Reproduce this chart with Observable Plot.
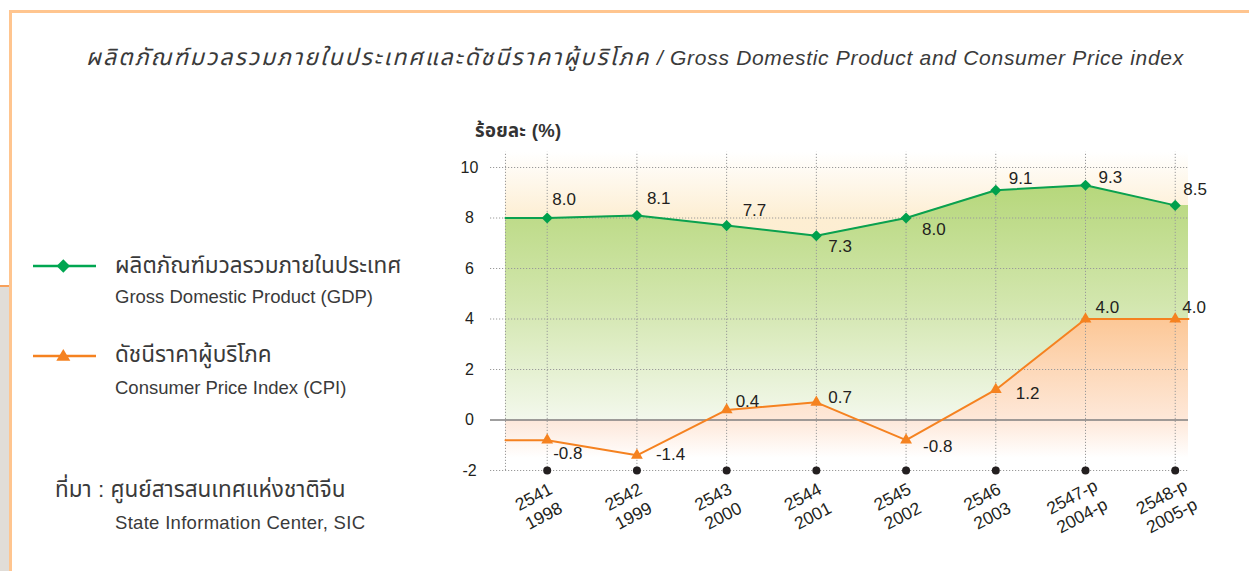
<!DOCTYPE html>
<html><head><meta charset="utf-8">
<script src="https://cdn.jsdelivr.net/npm/d3@7"></script>
<script src="https://cdn.jsdelivr.net/npm/@observablehq/plot@0.6"></script>
<style>
html,body{margin:0;padding:0;background:#fff;}
body{width:1249px;height:571px;position:relative;overflow:hidden;font-family:"Liberation Sans",Arial,"Noto Sans Thai","Noto Sans",sans-serif;color:#333;}
.abs{position:absolute;white-space:nowrap;}
.leg{font-size:18.5px;line-height:22px;color:#3a3a3a;}
.th{font-size:22.5px;line-height:26px;}
</style></head><body>
<div class="abs" style="left:9px;top:10px;width:1240px;height:3px;background:#ffc58f"></div>
<div class="abs" style="left:9px;top:10px;width:3px;height:561px;background:#ffc58f"></div>
<div class="abs" style="left:0;top:285px;width:9px;height:286px;background:#e1ddd8;border-top:2px solid #f7a05a;"></div>
<div class="abs" style="left:86px;top:43px;font-style:italic;line-height:28px;color:#3a3a3a;"><span id="titleTh" style="font-size:23px;letter-spacing:2px"></span><span id="titleEn" style="font-size:21px;letter-spacing:0.7px"></span></div>
<div id="ylabel" class="abs" style="left:475px;top:120px;font-weight:bold;font-size:18.5px;line-height:22px;color:#333;letter-spacing:0.3px"></div>
<svg class="abs" style="left:30px;top:256px" width="70" height="20"><line x1="3" x2="66" y1="10" y2="10" stroke="#00a651" stroke-width="2.5"/><path d="M33.3,3.3 L40,10 L33.3,16.7 L26.6,10Z" fill="#00a651"/></svg>
<svg class="abs" style="left:30px;top:346px" width="70" height="20"><line x1="3" x2="66" y1="10" y2="10" stroke="#f58220" stroke-width="2.5"/><path d="M33.3,3 L40.3,14.7 L26.3,14.7Z" fill="#f58220"/></svg>
<div id="leg0a" class="abs leg th" style="left:115px;top:253px"></div>
<div id="leg0b" class="abs leg" style="left:115px;top:286px"></div>
<div id="leg1a" class="abs leg th" style="left:115px;top:342px"></div>
<div id="leg1b" class="abs leg" style="left:115px;top:377px"></div>
<div id="src0" class="abs leg th" style="left:55px;top:477px"></div>
<div id="src1" class="abs leg" style="left:115px;top:512px;letter-spacing:0.3px"></div>
<div id="chart" class="abs" style="left:430px;top:100px;"></div>
<script>
// ---- data ----
const thaiYears = ["2541","2542","2543","2544","2545","2546","2547-p","2548-p"];
const ceYears = ["1998","1999","2000","2001","2002","2003","2004-p","2005-p"];
const gdp = [8.0, 8.1, 7.7, 7.3, 8.0, 9.1, 9.3, 8.5];
const cpi = [-0.8, -1.4, 0.4, 0.7, -0.8, 1.2, 4.0, 4.0];
const yTicks = [-2, 0, 2, 4, 6, 8, 10];
const seriesThai = ["ผลิตภัณฑ์มวลรวมภายในประเทศ", "ดัชนีราคาผู้บริโภค"];
const seriesEng = ["Gross Domestic Product (GDP)", "Consumer Price Index (CPI)"];
const titleThai = "ผลิตภัณฑ์มวลรวมภายในประเทศและดัชนีราคาผู้บริโภค";
const titleEng = " / Gross Domestic Product and Consumer Price index";
const yAxisLabel = "ร้อยละ (%)";
const sourceThai = "ที่มา : ศูนย์สารสนเทศแห่งชาติจีน";
const sourceEng = "State Information Center, SIC";

// ---- layout (styling, not data) ----
const X_GRID_L = -0.632, X_FILL_L = -0.465, X_R = 7.148, Y_TOP = 10.6;
const gdpLabelOffsets = [[5,-18],[10,-17],[16,-15],[12,11],[16,12],[13,-12],[13,-8],[8,-16]];
const cpiLabelOffsets = [[6,13],[19,-1],[9,-8],[12,-5],[17,6],[20,4],[10,-11],[7,-11]];

document.getElementById("titleTh").textContent = titleThai;
document.getElementById("titleEn").textContent = titleEng;
document.getElementById("ylabel").textContent = yAxisLabel;
document.getElementById("leg0a").textContent = seriesThai[0];
document.getElementById("leg0b").textContent = seriesEng[0];
document.getElementById("leg1a").textContent = seriesThai[1];
document.getElementById("leg1b").textContent = seriesEng[1];
document.getElementById("src0").textContent = sourceThai;
document.getElementById("src1").textContent = sourceEng;

const idx = thaiYears.map((_, i) => i);
const gdpRows = gdp.map((v, i) => ({i, v}));
const cpiRows = cpi.map((v, i) => ({i, v}));
const gdpLine = [{i: X_FILL_L, v: gdp[0]}, ...gdpRows];
const gdpArea = [...gdpLine, {i: X_R, v: gdp[gdp.length - 1]}];
const cpiExt = [{i: X_FILL_L, v: cpi[0]}, ...cpiRows, {i: X_R, v: cpi[cpi.length - 1]}];

const labelColor = "#231f20";
const gdpLabels = gdpRows.map((d, k) => Plot.text([d], {x: "i", y: "v", text: d => d.v.toFixed(1), textAnchor: "start", dx: gdpLabelOffsets[k][0], dy: gdpLabelOffsets[k][1], fontSize: 17, fill: labelColor}));
const cpiLabels = cpiRows.map((d, k) => Plot.text([d], {x: "i", y: "v", text: d => d.v.toFixed(1), textAnchor: "start", dx: cpiLabelOffsets[k][0], dy: cpiLabelOffsets[k][1], fontSize: 17, fill: labelColor}));

const svg = Plot.plot({
  width: 800, height: 460,
  marginLeft: 60, marginRight: 42, marginTop: 67, marginBottom: 90,
  x: {type: "linear", domain: [X_GRID_L, X_R], axis: null},
  y: {domain: [-2, 10], axis: null},
  style: {fontFamily: "Liberation Sans, Arial, sans-serif", background: "transparent", overflow: "visible"},
  marks: [
    Plot.rect([0], {x1: X_FILL_L, x2: X_R, y1: -2, y2: Y_TOP, fill: "url(#bgGrad)"}),
    Plot.areaY(gdpArea, {x: "i", y1: 0, y2: "v", fill: "url(#gdpGrad)"}),
    Plot.areaY(cpiExt, {x: "i", y1: -2, y2: "v", fill: "url(#cpiGrad)"}),
    Plot.ruleY(yTicks.filter(t => t !== 0), {x1: X_GRID_L, x2: X_R, stroke: "#9a9a9a", strokeDasharray: "1.2,1.8", strokeWidth: 1}),
    Plot.ruleX([X_FILL_L, ...idx], {y1: -2, y2: Y_TOP, stroke: "#9a9a9a", strokeDasharray: "1.2,1.8", strokeWidth: 1}),
    Plot.ruleY([0], {x1: X_GRID_L, x2: X_R, stroke: "#7f7f7f", strokeWidth: 1.4}),
    Plot.line(gdpLine, {x: "i", y: "v", stroke: "#0aa14f", strokeWidth: 2}),
    Plot.line(cpiExt, {x: "i", y: "v", stroke: "#f58220", strokeWidth: 2}),
    Plot.dot(gdpRows, {x: "i", y: "v", symbol: "diamond2", r: 5, fill: "#00a04d"}),
    Plot.dot(cpiRows, {x: "i", y: "v", symbol: "triangle", r: 4.4, fill: "#f58220"}),
    Plot.dot(idx, {x: d => d, y: -2, r: 4, fill: "#231f20"}),
    Plot.text(yTicks, {x: X_GRID_L, y: d => d, text: d => String(d), dx: -21, textAnchor: "middle", fontSize: 16, fill: labelColor}),
    Plot.text(idx, {x: d => d, y: -2, text: i => thaiYears[i] + "\n" + ceYears[i], rotate: -28, dx: -9, dy: 35, fontSize: 17.5, lineHeight: 1.22, textAnchor: "middle", lineAnchor: "middle", fill: labelColor}),
    ...gdpLabels,
    ...cpiLabels
  ]
});

const defs = document.createElementNS("http://www.w3.org/2000/svg", "defs");
defs.innerHTML = `
<linearGradient id="bgGrad" x1="0" y1="0" x2="0" y2="1">
  <stop offset="0" stop-color="#ffffff"/>
  <stop offset="0.21" stop-color="#fdeed2"/>
  <stop offset="0.5" stop-color="#fcebd5"/>
  <stop offset="0.84" stop-color="#fde7d9"/>
  <stop offset="0.97" stop-color="#ffffff"/>
</linearGradient>
<linearGradient id="gdpGrad" x1="0" y1="0" x2="0" y2="1">
  <stop offset="0" stop-color="#b6d77b"/>
  <stop offset="0.5" stop-color="#d2e6ad"/>
  <stop offset="1" stop-color="#f3f8ec"/>
</linearGradient>
<linearGradient id="cpiGrad" x1="0" y1="0" x2="0" y2="1">
  <stop offset="0" stop-color="#fcc796"/>
  <stop offset="0.33" stop-color="#fdd8b8"/>
  <stop offset="0.667" stop-color="#fee8d9"/>
  <stop offset="0.92" stop-color="#ffffff"/>
</linearGradient>`;
svg.insertBefore(defs, svg.firstChild);
document.getElementById("chart").appendChild(svg);
</script>
</body></html>
